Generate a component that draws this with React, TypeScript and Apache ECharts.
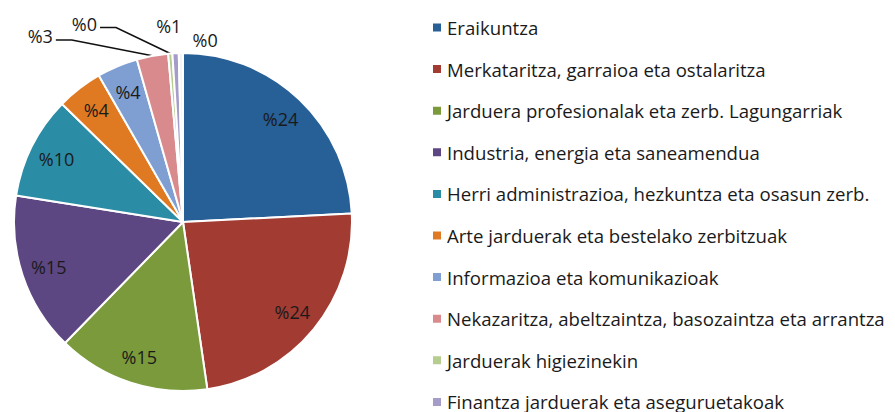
import React, { useEffect, useRef } from "react";
import * as echarts from "echarts";

const categories = [
  "Eraikuntza",
  "Merkataritza, garraioa eta ostalaritza",
  "Jarduera profesionalak eta zerb. Lagungarriak",
  "Industria, energia eta saneamendua",
  "Herri administrazioa, hezkuntza eta osasun zerb.",
  "Arte jarduerak eta bestelako zerbitzuak",
  "Informazioa eta komunikazioak",
  "Nekazaritza, abeltzaintza, basozaintza eta arrantza",
  "Jarduerak higiezinekin",
  "Finantza jarduerak eta aseguruetakoak",
  "",
];
const values = [24.2, 23.5, 14.6, 15.2, 9.8, 4.4, 3.9, 3.0, 0.4, 0.6, 0.4];
const colors = [
  "#275f97",
  "#a23b32",
  "#7a9a3b",
  "#5d4782",
  "#2b8ca6",
  "#e07a22",
  "#7f9fd3",
  "#d98a8c",
  "#b5cd8f",
  "#a69cc9",
  "#f4f4f4",
];

const FONT = "'Open Sans', 'Noto Sans', sans-serif";
const CX = 183;
const CY = 222;
const R = 169;

export default function App() {
  const ref = useRef<HTMLDivElement>(null);
  useEffect(() => {
    document.body.style.margin = "0";
    const chart = echarts.init(ref.current!, null, { renderer: "svg" });
    const fmt = (p: any) => "%" + Math.round(p.value);
    const total = values.reduce((a, b) => a + b, 0);
    const midAngle = (i: number) => {
      let s = 0;
      for (let k = 0; k < i; k++) s += values[k];
      return ((s + values[i] / 2) / total) * Math.PI * 2;
    };
    // outside label settings for small slices
    const outside: Record<number, any> = {
      7: { length: 14, length2: 88, show: true },
      8: { length: 30, length2: 62, show: true },
      9: { length: 27, length2: 0, show: false },
      10: { length: 13, length2: 0, show: false },
    };
    const nudges: Record<number, [number, number]> = {
      7: [-4, -6],
      8: [-4, 0],
      9: [12, 0],
      10: [42, 0],
    };
    const mainData = values.map((v, i) => {
      const o = outside[i];
      return {
        name: categories[i],
        value: v,
        itemStyle: { color: colors[i] },
        label: { show: !!o },
        labelLine: o
          ? { show: o.show, length: o.length, length2: o.length2, smooth: false }
          : { show: false },
      };
    });
    const overlayData = values.map((v, i) => ({
      name: categories[i],
      value: v,
      label: { show: !outside[i] },
    }));
    chart.setOption({
      animation: false,
      backgroundColor: "#ffffff",
      legend: {
        orient: "vertical",
        left: 431,
        top: 18,
        height: 400,
        padding: 0,
        icon: "rect",
        itemWidth: 10,
        itemHeight: 10,
        itemGap: 22.6,
        data: categories.slice(0, 10),
        selectedMode: false,
        textStyle: { fontFamily: FONT, fontSize: 18.6, color: "#1a1a1a", padding: [0, 0, 0, 0] },
      },
      series: [
        {
          type: "pie",
          center: [CX, CY],
          radius: [0, R],
          startAngle: 90,
          clockwise: true,
          avoidLabelOverlap: false,
          itemStyle: { borderColor: "#ffffff", borderWidth: 2 },
          label: {
            position: "outside",
            formatter: fmt,
            fontFamily: FONT,
            fontSize: 18,
            color: "#1a1a1a",
          },
          labelLine: { lineStyle: { color: "#111", width: 1.6 } },
          labelLayout: (p: any) => {
            const n = nudges[p.dataIndex];
            if (!n) return {};
            const res: any = { dx: n[0], dy: n[1] };
            if (outside[p.dataIndex].show && p.labelRect) {
              const r = p.labelRect;
              const a = midAngle(p.dataIndex);
              const p0 = [CX + R * Math.sin(a), CY - R * Math.cos(a)];
              const end = [r.x + r.width + n[0] + 3, r.y + r.height / 2 + n[1] + 4];
              const mid = [end[0] + 16, end[1]];
              res.labelLinePoints = [p0, mid, end];
            }
            return res;
          },
          data: mainData,
        },
        {
          type: "pie",
          silent: true,
          center: [CX, CY],
          radius: [108, R],
          startAngle: 90,
          clockwise: true,
          avoidLabelOverlap: false,
          itemStyle: { color: "rgba(0,0,0,0)", borderWidth: 0 },
          label: {
            position: "inside",
            formatter: fmt,
            fontFamily: FONT,
            fontSize: 18,
            color: "#1a1a1a",
          },
          labelLine: { show: false },
          data: overlayData,
        },
      ],
    });
    return () => chart.dispose();
  }, []);
  return (
    <div
      ref={ref}
      style={{ position: "fixed", left: 0, top: 0, width: 895, height: 412 }}
    />
  );
}
